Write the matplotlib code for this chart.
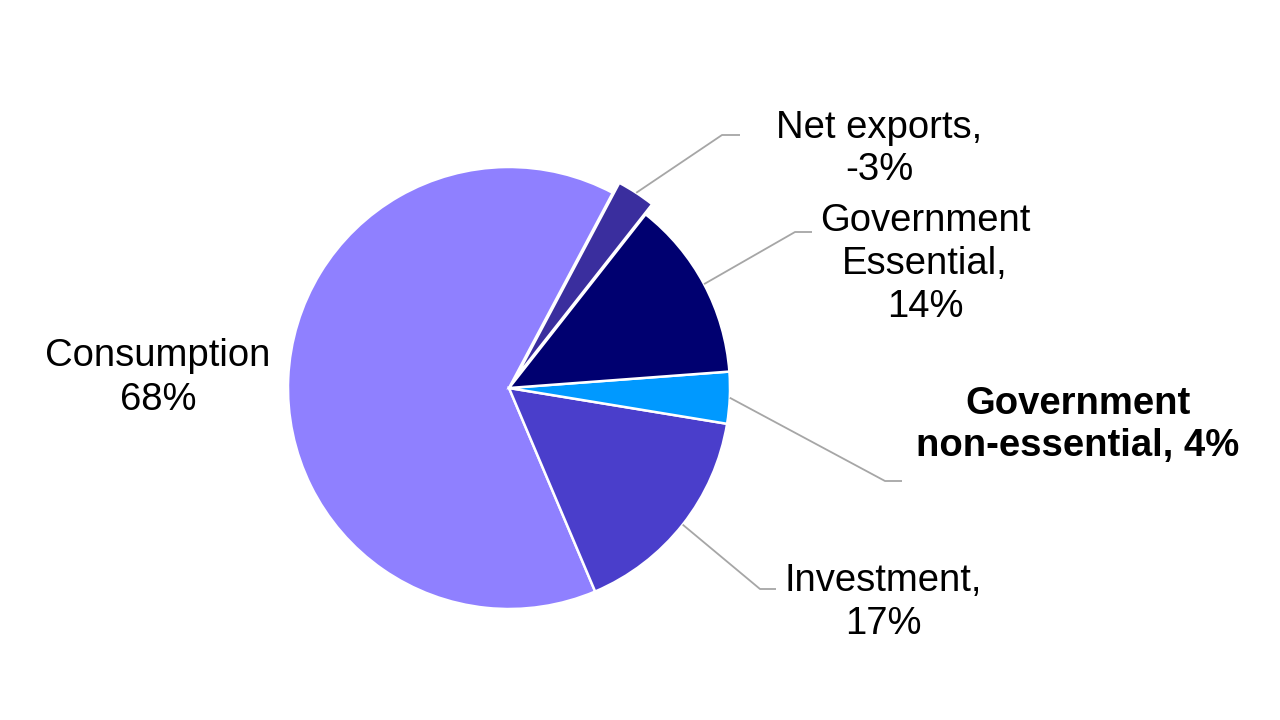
import numpy as np
import matplotlib.pyplot as plt

plt.rcParams['font.family'] = ['Liberation Sans', 'DejaVu Sans']

# GDP components, share of total (%)
categories = ['Consumption', 'Investment', 'Government non-essential',
              'Government Essential', 'Net exports']
shares = [68, 17, 4, 14, -3]
label_texts = ['Consumption\n68%', 'Investment,\n17%',
               'Government\nnon-essential, 4%', 'Government\nEssential,\n14%',
               'Net exports,\n-3%']
colors = ['#8f80ff', '#4a3ecb', '#0099ff', '#000070', '#3a2e9e']
# pie() offsets wedges in data units, here pixels
explode = [0, 0, 0, 0, 12]

fig = plt.figure(figsize=(12.8, 7.2), dpi=100)
ax = fig.add_axes([0, 0, 1, 1])

cx, cy, r = 509, 332, 221
wedges, _ = ax.pie(np.abs(shares), colors=colors, explode=explode,
                   startangle=62, counterclock=True, center=(cx, cy), radius=r,
                   wedgeprops=dict(edgecolor='white', linewidth=1.8))
ax.set_xlim(0, 1280)
ax.set_ylim(0, 720)
ax.set_aspect('equal')
ax.axis('off')

# label placement: text centre, leader elbow, leader end (None = no leader)
layout = {
    'Consumption': ((158, 342), None, None),
    'Investment': ((883, 118), (760, 131), (776, 131)),
    'Government non-essential': ((1078, 295), (885, 239), (902, 239)),
    'Government Essential': ((925, 456), (795, 488), (812, 488)),
    'Net exports': ((879, 571), (722, 585), (740, 585)),
}

for w, name, txt, ex in zip(wedges, categories, label_texts, explode):
    (tx, ty), elbow, end = layout[name]
    bold = name == 'Government non-essential'
    ax.text(tx, ty, txt, ha='center', va='center', multialignment='center',
            fontsize=27.5, fontweight='bold' if bold else 'normal',
            color='black', linespacing=1.25)
    if elbow is not None:
        ang = np.deg2rad((w.theta1 + w.theta2) / 2)
        rr = r + ex
        sx, sy = cx + rr * np.cos(ang), cy + rr * np.sin(ang)
        ax.plot([sx, elbow[0], end[0]], [sy, elbow[1], end[1]],
                color='#a6a6a6', linewidth=1.3, solid_capstyle='butt')

fig.savefig('out.png', dpi=100)
